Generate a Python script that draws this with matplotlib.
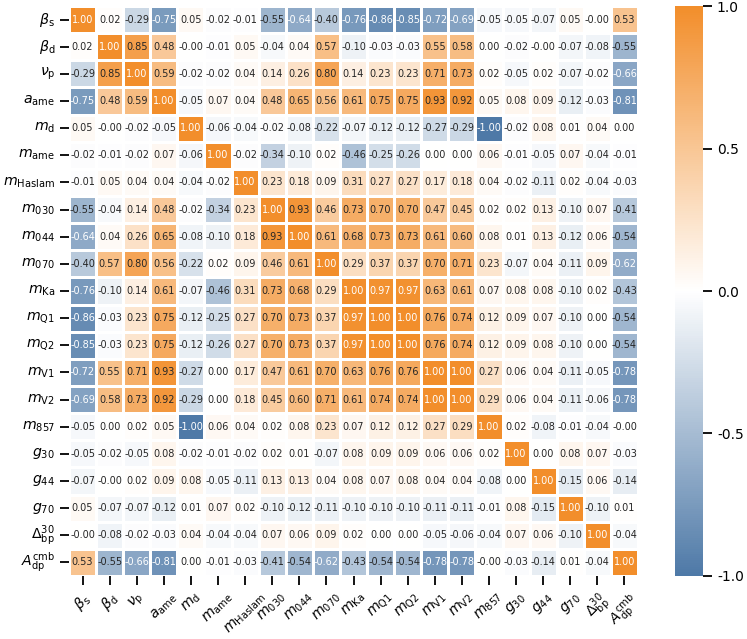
import numpy as np
import matplotlib
matplotlib.use('Agg')
import matplotlib.pyplot as plt
from matplotlib.colors import LinearSegmentedColormap
import seaborn as sns

labels = [r'$\beta_{\mathrm{s}}$', r'$\beta_{\mathrm{d}}$', r'$\nu_{\mathrm{p}}$',
          r'$a_{\mathrm{ame}}$', r'$m_{\mathrm{d}}$', r'$m_{\mathrm{ame}}$',
          r'$m_{\mathrm{Haslam}}$', r'$m_{030}$', r'$m_{044}$', r'$m_{070}$',
          r'$m_{\mathrm{Ka}}$', r'$m_{\mathrm{Q1}}$', r'$m_{\mathrm{Q2}}$',
          r'$m_{\mathrm{V1}}$', r'$m_{\mathrm{V2}}$', r'$m_{857}$',
          r'$g_{30}$', r'$g_{44}$', r'$g_{70}$',
          r'$\Delta_{\mathrm{bp}}^{30}$', r'$A_{\mathrm{dp}}^{\mathrm{cmb}}$']

# correlation rows
beta_s   = [1.00, 0.02, -0.29, -0.75, 0.05, -0.02, -0.01, -0.55, -0.64, -0.40, -0.76, -0.86, -0.85, -0.72, -0.69, -0.05, -0.05, -0.07, 0.05, -0.0, 0.53]
beta_d   = [0.02, 1.00, 0.85, 0.48, -0.0, -0.01, 0.05, -0.04, 0.04, 0.57, -0.10, -0.03, -0.03, 0.55, 0.58, 0.00, -0.02, -0.0, -0.07, -0.08, -0.55]
nu_p     = [-0.29, 0.85, 1.00, 0.59, -0.02, -0.02, 0.04, 0.14, 0.26, 0.80, 0.14, 0.23, 0.23, 0.71, 0.73, 0.02, -0.05, 0.02, -0.07, -0.02, -0.66]
a_ame    = [-0.75, 0.48, 0.59, 1.00, -0.05, 0.07, 0.04, 0.48, 0.65, 0.56, 0.61, 0.75, 0.75, 0.93, 0.92, 0.05, 0.08, 0.09, -0.12, -0.03, -0.81]
m_d      = [0.05, -0.0, -0.02, -0.05, 1.00, -0.06, -0.04, -0.02, -0.08, -0.22, -0.07, -0.12, -0.12, -0.27, -0.29, -1.00, -0.02, 0.08, 0.01, 0.04, 0.00]
m_ame    = [-0.02, -0.01, -0.02, 0.07, -0.06, 1.00, -0.02, -0.34, -0.10, 0.02, -0.46, -0.25, -0.26, 0.00, 0.00, 0.06, -0.01, -0.05, 0.07, -0.04, -0.01]
m_haslam = [-0.01, 0.05, 0.04, 0.04, -0.04, -0.02, 1.00, 0.23, 0.18, 0.09, 0.31, 0.27, 0.27, 0.17, 0.18, 0.04, -0.02, -0.11, 0.02, -0.04, -0.03]
m_030    = [-0.55, -0.04, 0.14, 0.48, -0.02, -0.34, 0.23, 1.00, 0.93, 0.46, 0.73, 0.70, 0.70, 0.47, 0.45, 0.02, 0.02, 0.13, -0.10, 0.07, -0.41]
m_044    = [-0.64, 0.04, 0.26, 0.65, -0.08, -0.10, 0.18, 0.93, 1.00, 0.61, 0.68, 0.73, 0.73, 0.61, 0.60, 0.08, 0.01, 0.13, -0.12, 0.06, -0.54]
m_070    = [-0.40, 0.57, 0.80, 0.56, -0.22, 0.02, 0.09, 0.46, 0.61, 1.00, 0.29, 0.37, 0.37, 0.70, 0.71, 0.23, -0.07, 0.04, -0.11, 0.09, -0.62]
m_ka     = [-0.76, -0.10, 0.14, 0.61, -0.07, -0.46, 0.31, 0.73, 0.68, 0.29, 1.00, 0.97, 0.97, 0.63, 0.61, 0.07, 0.08, 0.08, -0.10, 0.02, -0.43]
m_q1     = [-0.86, -0.03, 0.23, 0.75, -0.12, -0.25, 0.27, 0.70, 0.73, 0.37, 0.97, 1.00, 1.00, 0.76, 0.74, 0.12, 0.09, 0.07, -0.10, 0.00, -0.54]
m_q2     = [-0.85, -0.03, 0.23, 0.75, -0.12, -0.26, 0.27, 0.70, 0.73, 0.37, 0.97, 1.00, 1.00, 0.76, 0.74, 0.12, 0.09, 0.08, -0.10, 0.00, -0.54]
m_v1     = [-0.72, 0.55, 0.71, 0.93, -0.27, 0.00, 0.17, 0.47, 0.61, 0.70, 0.63, 0.76, 0.76, 1.00, 1.00, 0.27, 0.06, 0.04, -0.11, -0.05, -0.78]
m_v2     = [-0.69, 0.58, 0.73, 0.92, -0.29, 0.00, 0.18, 0.45, 0.60, 0.71, 0.61, 0.74, 0.74, 1.00, 1.00, 0.29, 0.06, 0.04, -0.11, -0.06, -0.78]
m_857    = [-0.05, 0.00, 0.02, 0.05, -1.00, 0.06, 0.04, 0.02, 0.08, 0.23, 0.07, 0.12, 0.12, 0.27, 0.29, 1.00, 0.02, -0.08, -0.01, -0.04, -0.0]
g_30     = [-0.05, -0.02, -0.05, 0.08, -0.02, -0.01, -0.02, 0.02, 0.01, -0.07, 0.08, 0.09, 0.09, 0.06, 0.06, 0.02, 1.00, 0.00, 0.08, 0.07, -0.03]
g_44     = [-0.07, -0.0, 0.02, 0.09, 0.08, -0.05, -0.11, 0.13, 0.13, 0.04, 0.08, 0.07, 0.08, 0.04, 0.04, -0.08, 0.00, 1.00, -0.15, 0.06, -0.14]
g_70     = [0.05, -0.07, -0.07, -0.12, 0.01, 0.07, 0.02, -0.10, -0.12, -0.11, -0.10, -0.10, -0.10, -0.11, -0.11, -0.01, 0.08, -0.15, 1.00, -0.10, 0.01]
delta_bp = [-0.0, -0.08, -0.02, -0.03, 0.04, -0.04, -0.04, 0.07, 0.06, 0.09, 0.02, 0.00, 0.00, -0.05, -0.06, -0.04, 0.07, 0.06, -0.10, 1.00, -0.04]
a_cmb    = [0.53, -0.55, -0.66, -0.81, 0.00, -0.01, -0.03, -0.41, -0.54, -0.62, -0.43, -0.54, -0.54, -0.78, -0.78, -0.0, -0.03, -0.14, 0.01, -0.04, 1.00]

corr = np.array([beta_s, beta_d, nu_p, a_ame, m_d, m_ame, m_haslam, m_030, m_044,
                 m_070, m_ka, m_q1, m_q2, m_v1, m_v2, m_857, g_30, g_44, g_70,
                 delta_bp, a_cmb])

cmap = LinearSegmentedColormap.from_list('bwo', ['#4e79a7', '#ffffff', '#f28e2b'])

fig = plt.figure(figsize=(7.47, 6.39), dpi=100)
ax = fig.add_axes([0.0924, 0.0986, 0.7617, 0.892])
cax = fig.add_axes([0.9036, 0.0986, 0.0375, 0.892])

sns.heatmap(corr, ax=ax, cbar_ax=cax, cmap=cmap, vmin=-1, vmax=1,
            annot=True, fmt='.2f', annot_kws={'fontsize': 7},
            linewidths=1, linecolor='white',
            xticklabels=labels, yticklabels=labels)

# text colour: white only on the darkest cells, like the original
for t in ax.texts:
    v = float(t.get_text())
    t.set_color('white' if (v > 0.95 or v < -0.58) else '#262626')

ax.tick_params(axis='both', length=6.5, width=1.3, labelsize=10.2)
plt.setp(ax.get_xticklabels(), rotation=45, ha='center')
plt.setp(ax.get_yticklabels(), rotation=0)

cax.tick_params(length=6.5, width=1.3, labelsize=10)
cax.set_yticks([-1, -0.5, 0, 0.5, 1])
cax.set_yticklabels(['-1.0', '-0.5', '0.0', '0.5', '1.0'])

fig.savefig('out.png', dpi=100)
